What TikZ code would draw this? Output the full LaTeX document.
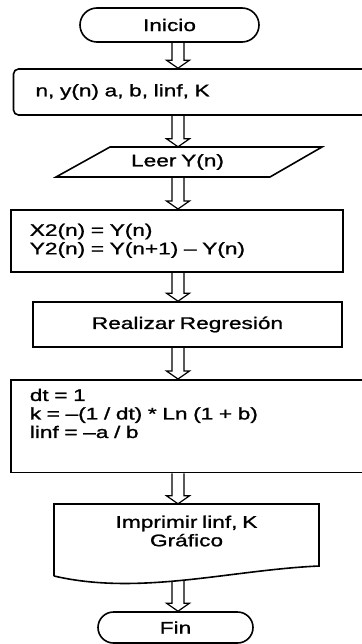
\documentclass[tikz,border=0pt]{standalone}
\usepackage{fontspec}
\setmainfont{Liberation Sans}[FakeStretch=1.35,FakeBold=1.2,WordSpace=0.75]
\usetikzlibrary{calc}

% Hohlpfeil zwischen zwei Knoten
\newcommand{\flecha}[2]{%
	\draw[line width=1.2pt] let \p1=(#1), \p2=(#2) in
		(172pt,\y1) -- (172pt,\y2+8pt) -- (166.5pt,\y2+8pt) -- (178pt,\y2)
		-- (189.5pt,\y2+8pt) -- (184pt,\y2+8pt) -- (184pt,\y1);
}

\begin{document}
\begin{tikzpicture}[x=1pt,y=-1pt,
		font=\fontsize{16.8pt}{18.5pt}\selectfont,
		caja/.style={draw,line width=1.6pt,inner sep=0pt}]
					\useasboundingbox (0,0) rectangle (361,644);
					%Knoten
					\node[caja,rounded corners=17pt,minimum width=179pt,minimum height=34pt] (inicio) at (169.5,25) {Inicio};
					\node[caja,rounded corners=5pt,anchor=west,minimum height=46pt,text width=330pt,inner xsep=22pt,align=left] (datos) at (12.7,92) {n, y(n) a, b, linf, K};
					\node[minimum height=30pt,inner sep=0pt] (leer) at (177.5,162) {Leer Y(n)};
					\node[caja,anchor=north west,minimum height=62pt,text width=294pt,inner xsep=19pt,align=left] (calc1) at (10,209) {X2(n) = Y(n)\\Y2(n) = Y(n+1) – Y(n)};
					\node[caja,minimum width=309pt,minimum height=45pt] (regresion) at (187.5,324.5) {Realizar Regresión};
					\node[caja,anchor=north west,text width=330pt,inner xsep=19pt,inner ysep=9pt,align=left] (calc2) at (10,379) {dt = 1\\k = –(1 / dt) * Ln (1 + b)\\linf = –a / b\\[7pt]\mbox{}};
					\node[minimum height=54pt,inner sep=0pt,align=center] (imprimir) at (186.5,531) {Imprimir linf, K\\Gráfico};
					\node[caja,rounded corners=15.5pt,minimum width=155pt,minimum height=31pt] (fin) at (175.5,627.5) {Fin};
					%Umrisse
					\draw[line width=1.6pt] (56,177) -- (110,147) -- (322,147) -- (270,177) -- cycle;
					\draw[line width=1.6pt] (54,576) -- (54,504) -- (319,504) -- (319,566) .. controls (230,570) and (140,596) .. (54,576);
					%Pfeile
					\flecha{inicio.south}{datos.north}
					\flecha{datos.south}{leer.north}
					\flecha{leer.south}{calc1.north}
					\flecha{calc1.south}{regresion.north}
					\flecha{regresion.south}{calc2.north}
					\flecha{calc2.south}{imprimir.north}
					\flecha{[yshift=-23pt]imprimir.south}{fin.north}
				\end{tikzpicture}
\end{document}
